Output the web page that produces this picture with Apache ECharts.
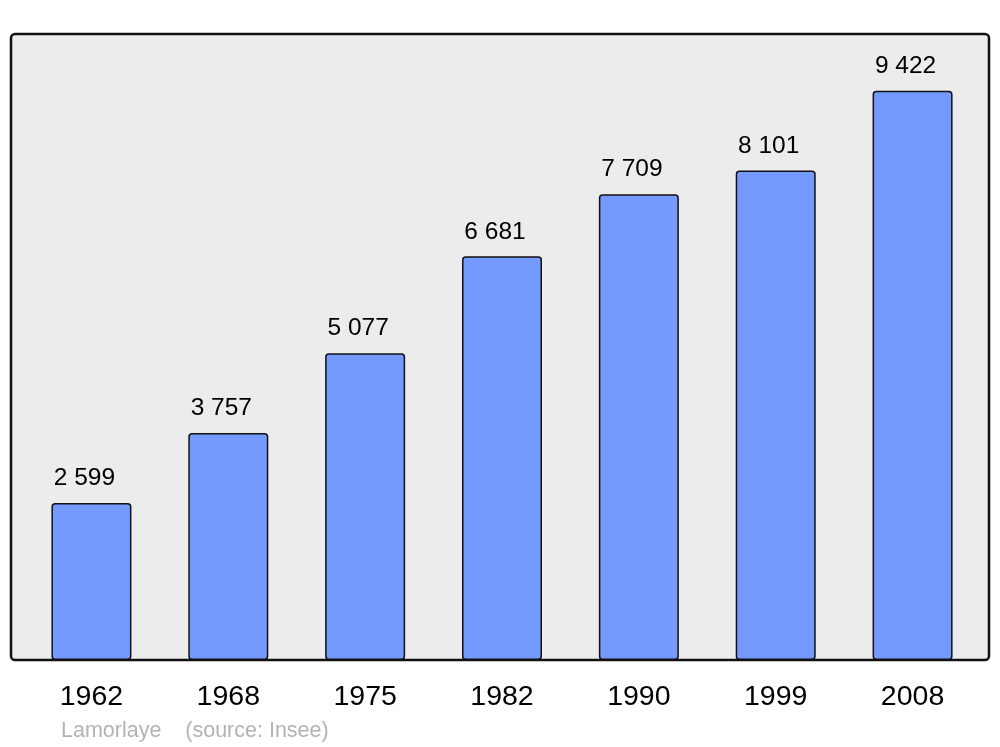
<!DOCTYPE html>
<html><head><meta charset="utf-8">
<script src="https://cdn.jsdelivr.net/npm/echarts@6/dist/echarts.min.js"></script>
<style>html,body{margin:0;padding:0;background:#fff}#c{width:1000px;height:747px}</style>
</head><body><div id="c"></div>
<script>
const categories = ['1962','1968','1975','1982','1990','1999','2008'];
const population = [2599, 3757, 5077, 6681, 7709, 8101, 9422];
const sourceText = 'Lamorlaye    (source: Insee)';

const fmt = v => String(v).replace(/\B(?=(\d{3})+(?!\d))/g, ' ');
const chart = echarts.init(document.getElementById('c'), null, {renderer:'canvas'});
chart.setOption({
  animation: false,
  backgroundColor: '#ffffff',
  textStyle: {fontFamily: 'Liberation Sans, Arial, sans-serif'},
  title: {
    text: sourceText, left: 61, top: 720, padding: 0,
    textStyle: {fontSize: 21.5, fontWeight: 'normal', color: '#b3b3b3', fontFamily: 'Liberation Sans, Arial, sans-serif'}
  },
  graphic: [{
    type: 'rect', z: 0, silent: true,
    shape: {x: 11, y: 34, width: 978, height: 626, r: 4},
    style: {fill: '#ececec', stroke: '#111', lineWidth: 2.5}
  }],
  grid: {left: 23, right: 19, top: 34, bottom: 87},
  xAxis: {
    type: 'category', data: categories,
    axisLine: {show: false}, axisTick: {show: false},
    axisLabel: {fontSize: 28.5, color: '#000', margin: 23, fontFamily: 'Liberation Sans, Arial, sans-serif'}
  },
  yAxis: {
    type: 'value', min: 0, max: 10360,
    show: false, splitLine: {show: false}
  },
  series: [{
    type: 'bar', data: population, barWidth: 80, z: 2,
    itemStyle: {color: '#7499ff', borderColor: '#111', borderWidth: 1.5, borderRadius: 3},
    label: {
      show: true, position: 'top', distance: 12, offset: [-7, 0],
      fontSize: 24.5, color: '#000', fontFamily: 'Liberation Sans, Arial, sans-serif',
      formatter: p => fmt(p.value)
    }
  }]
});
</script></body></html>
